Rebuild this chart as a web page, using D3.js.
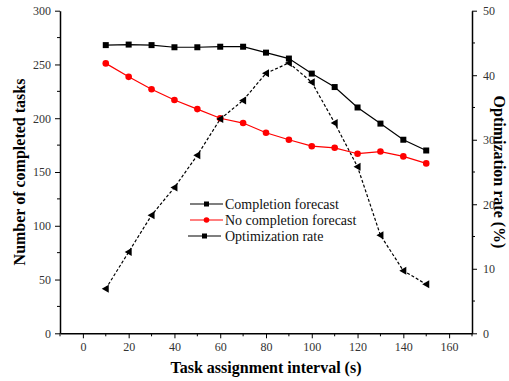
<!DOCTYPE html>
<meta charset="utf-8">
<html>
<head>
<style>
  body { margin: 0; background: #fff; }
  svg text { font-family: "Times New Roman", "Liberation Serif", "DejaVu Serif", serif; }
</style>
<script src="https://cdn.jsdelivr.net/npm/d3@7"></script>
</head>
<body>
<script>
// data
var intervals = [10, 20, 30, 40, 50, 60, 70, 80, 90, 100, 110, 120, 130, 140, 150]
var completion = [268, 268.5, 268, 266, 266, 266.5, 266.5, 261, 255.5, 241.5, 229, 210, 195, 180, 170]
var noCompletion = [251, 238.5, 227, 217, 208.5, 200, 195.5, 186.5, 180, 174, 172.5, 167, 169, 164.5, 158]
var optRate = [6.9, 12.6, 18.3, 22.6, 27.6, 33.2, 36.1, 40.3, 41.9, 38.9, 32.6, 25.8, 15.2, 9.7, 7.6]
var xTicks = [0, 20, 40, 60, 80, 100, 120, 140, 160]
var yTicks = [0, 50, 100, 150, 200, 250, 300]
var y2Ticks = [0, 10, 20, 30, 40, 50]
var legendNames = ["Completion forecast", "No completion forecast", "Optimization rate"]

var width = 509, height = 381
var svg = d3.select("body").append("svg")
    .attr("width", width)
    .attr("height", height)

var x = d3.scaleLinear().domain([-10, 170]).range([60, 472])
var y = d3.scaleLinear().domain([0, 300]).range([333.3, 10.7])
var y2 = d3.scaleLinear().domain([0, 50]).range([333.3, 10.7])

// axes
var xAxis = svg.append("g").attr("transform", "translate(0,333.3)")
    .call(d3.axisBottom(x).tickValues(xTicks).tickSize(5).tickSizeOuter(0).tickPadding(4))
xAxis.append("g").selectAll("line")
    .data(d3.range(-10, 171, 20)).enter().append("line")
    .attr("x1", d=>x(d)).attr("x2", d=>x(d)).attr("y1", 0).attr("y2", 3)
    .attr("stroke", "#000")

var yAxis = svg.append("g").attr("transform", "translate(60,0)")
    .call(d3.axisLeft(y).tickValues(yTicks).tickSize(5).tickSizeOuter(0).tickPadding(4))
yAxis.append("g").selectAll("line")
    .data(d3.range(25, 300, 50)).enter().append("line")
    .attr("y1", d=>y(d)).attr("y2", d=>y(d)).attr("x1", 0).attr("x2", -3)
    .attr("stroke", "#000")

var y2Axis = svg.append("g").attr("transform", "translate(472,0)")
    .call(d3.axisRight(y2).tickValues(y2Ticks).tickSize(5).tickSizeOuter(0).tickPadding(6))
y2Axis.append("g").selectAll("line")
    .data(d3.range(5, 50, 10)).enter().append("line")
    .attr("y1", d=>y2(d)).attr("y2", d=>y2(d)).attr("x1", 0).attr("x2", 3)
    .attr("stroke", "#000")

svg.selectAll("g").attr("font-family", null)
svg.selectAll(".domain").attr("stroke-width", 1.5)
svg.selectAll(".tick text")
    .style("font-size", "12px")
    .attr("fill", "#333")

// axis titles
svg.append("text")
    .attr("x", 266).attr("y", 373)
    .attr("text-anchor", "middle")
    .style("font-size", "16px").style("font-weight", "bold")
    .text("Task assignment interval (s)")
svg.append("text")
    .attr("transform", "translate(25,172) rotate(-90)")
    .attr("text-anchor", "middle")
    .style("font-size", "16px").style("font-weight", "bold")
    .text("Number of completed tasks")
svg.append("text")
    .attr("transform", "translate(494,172) rotate(90)")
    .attr("text-anchor", "middle")
    .style("font-size", "16px").style("font-weight", "bold")
    .text("Optimization rate (%)")

// series
var line = d3.line().x(d=>x(d[0])).y(d=>y(d[1]))
var line2 = d3.line().x(d=>x(d[0])).y(d=>y2(d[1]))

var compData = intervals.map((d,i)=>[d, completion[i]])
var noData = intervals.map((d,i)=>[d, noCompletion[i]])
var optData = intervals.map((d,i)=>[d, optRate[i]])

svg.append("path").datum(optData)
    .attr("d", line2).attr("fill", "none")
    .attr("stroke", "#000").attr("stroke-width", 1.2)
    .attr("stroke-dasharray", "3,2")
svg.append("path").datum(compData)
    .attr("d", line).attr("fill", "none")
    .attr("stroke", "#000").attr("stroke-width", 1.2)
svg.append("path").datum(noData)
    .attr("d", line).attr("fill", "none")
    .attr("stroke", "#ff0000").attr("stroke-width", 1.2)

svg.selectAll("rect.comp")
    .data(compData).enter().append("rect")
    .attr("class", "comp")
    .attr("x", d=>x(d[0]) - 3).attr("y", d=>y(d[1]) - 3)
    .attr("width", 6).attr("height", 6)
    .attr("fill", "#000")
svg.selectAll("circle.nocomp")
    .data(noData).enter().append("circle")
    .attr("class", "nocomp")
    .attr("cx", d=>x(d[0])).attr("cy", d=>y(d[1]))
    .attr("r", 3.3)
    .attr("fill", "#ff0000")
svg.selectAll("path.opt")
    .data(optData).enter().append("path")
    .attr("class", "opt")
    .attr("transform", d=>"translate(" + x(d[0]) + "," + y2(d[1]) + ")")
    .attr("d", "M-4,0L3,-4L3,4Z")
    .attr("fill", "#000")

// legend
var legend = svg.append("g")
var rows = legend.selectAll("g")
    .data(legendNames).enter().append("g")
    .attr("transform", (d,i)=>"translate(" + (i == 2 ? 188 : 190) + "," + (204 + i * 16) + ")")
rows.append("line")
    .attr("x1", 0).attr("x2", 33)
    .attr("stroke", (d,i)=>i == 1 ? "#ff0000" : "#000")
    .attr("stroke-width", 1.2)
rows.append("rect")
    .attr("x", 14).attr("y", -2.5).attr("width", 5).attr("height", 5)
    .attr("fill", "#000")
    .filter((d,i)=>i == 1).remove()
rows.filter((d,i)=>i == 1).append("circle")
    .attr("cx", 16.5).attr("r", 2.8).attr("fill", "#ff0000")
rows.append("text")
    .attr("x", (d,i)=>i == 2 ? 37 : 35).attr("y", 4.5)
    .style("font-size", "14px")
    .attr("fill", "#111")
    .text(d=>d)
</script>
</body>
</html>
